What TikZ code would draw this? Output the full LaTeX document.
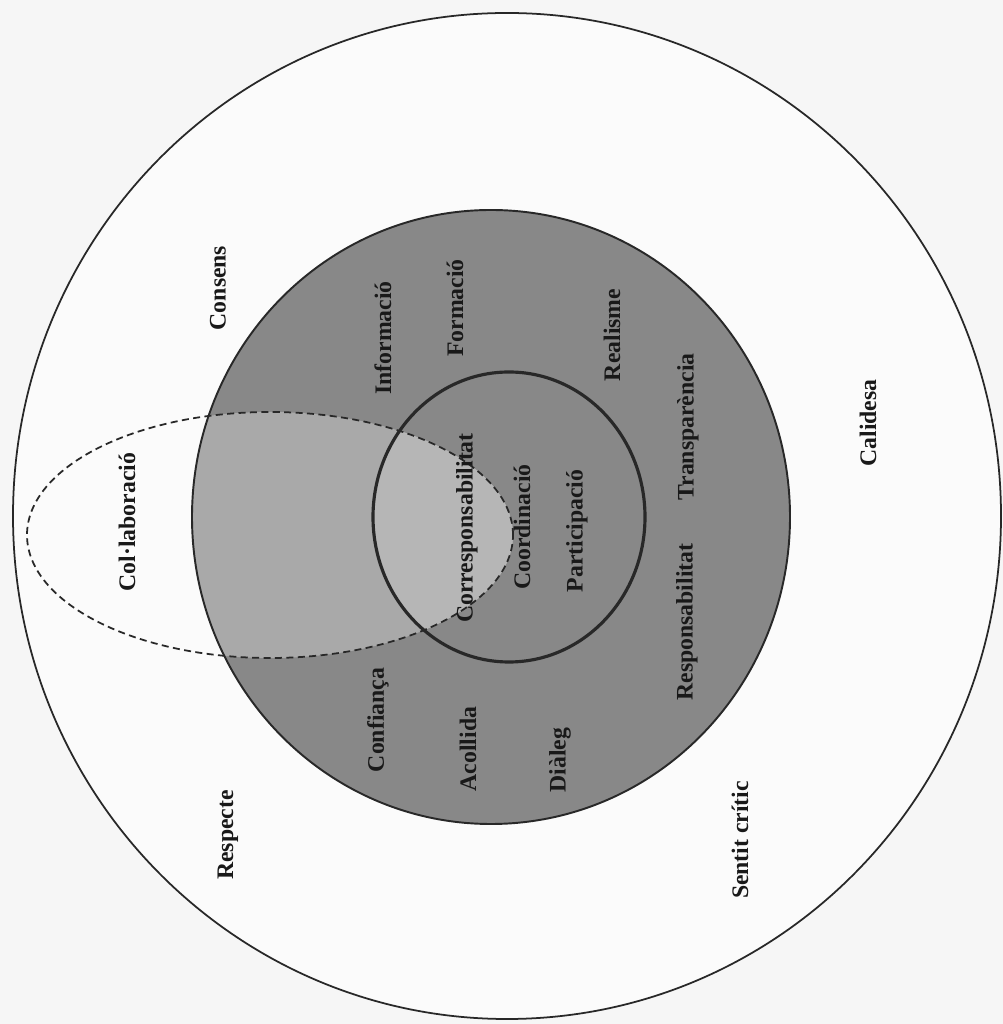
\documentclass[tikz,border=0pt]{standalone}
\usepackage{fontspec}
\setmainfont{Liberation Serif}
\usepackage{xcolor}
\definecolor{scanwhite}{RGB}{246,246,246}
\definecolor{ringgray}{RGB}{136,136,136}
\definecolor{lapgray}{RGB}{169,169,169}
\definecolor{coregray}{RGB}{182,182,182}
\definecolor{linegray}{RGB}{40,40,40}
\usetikzlibrary{positioning}

\begin{document}
\begin{tikzpicture}[
  x=0.02cm,y=0.02cm,
  valor/.style={rotate=90,font=\fontsize{13.5}{16}\selectfont\bfseries,text=black!90,inner sep=1pt},
  ring/.style={draw=linegray,line width=1.1pt}
]
  \useasboundingbox[fill=scanwhite] (0,0) rectangle (1003,1024);

  % Outer circle
  \draw[linegray,line width=1pt,fill=white!60!scanwhite] (507,508) ellipse [x radius=494,y radius=503];

  % Middle circle
  \fill[ringgray] (491,507) ellipse [x radius=299,y radius=307];

  % Overlap of the dashed ellipse
  \begin{scope}
    \clip (491,507) ellipse [x radius=299,y radius=307];
    \fill[lapgray] (270,489) ellipse [x radius=243,y radius=123];
    \clip (509,507) ellipse [x radius=136,y radius=145];
    \fill[coregray] (270,489) ellipse [x radius=243,y radius=123];
  \end{scope}

  \draw[ring] (491,507) ellipse [x radius=299,y radius=307];
  \draw[linegray,line width=1.8pt] (509,507) ellipse [x radius=136,y radius=145];
  \draw[linegray,line width=1pt,dash pattern=on 4pt off 2.5pt] (270,489) ellipse [x radius=243,y radius=123];

  % Outer values
  \node[valor] (consens)  at (218,736) {Consens};
  \node[valor] (respecte) at (228,189) {Respecte};
  \node[valor] (sentit)   at (740,184) {Sentit crític};
  \node[valor] (calidesa) at (868,601) {Calidesa};
  \node[valor] (collab)   at (127,502) {Col·laboració};

  % Ring values
  \node[valor] (informa)  at (383,686) {Informació};
  \node[valor] (formacio) at (455,716) {Formació};
  \node[valor] (realisme) at (612,689) {Realisme};
  \node[valor] (transp)   at (688,597) {Transparència};
  \node[valor] (respons)  at (687,402) {Responsabilitat};
  \node[valor] (confianca) at (378,304) {Confiança};
  \node[valor] (acollida) at (468,275) {Acollida};
  \node[valor] (dialeg)   at (560,264) {Diàleg};

  % Core values
  \node[valor] (corresp)  at (467,496) {Corresponsabilitat};
  \node[valor] (coord)    at (522,497) {Coordinació};
  \node[valor] (particip) at (577,493) {Participació};
\end{tikzpicture}
\end{document}
